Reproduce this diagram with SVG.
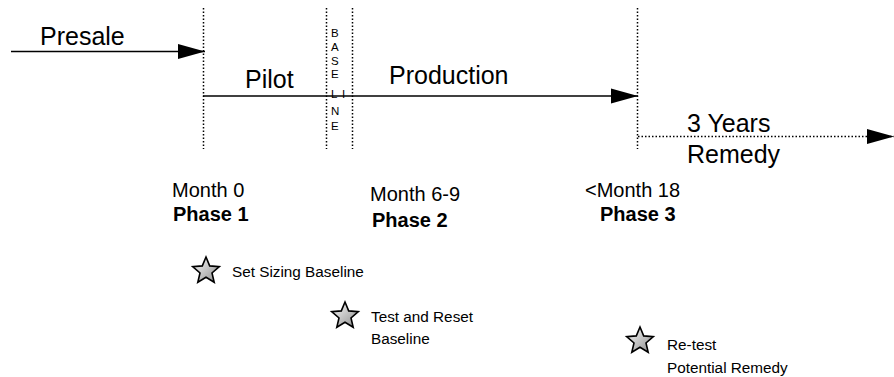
<svg xmlns="http://www.w3.org/2000/svg" width="894" height="377" viewBox="0 0 894 377">
<style>
.big{font-family:"Liberation Sans",Arial,sans-serif;font-size:25px;fill:#000}
.mid{font-family:"Liberation Sans",Arial,sans-serif;font-size:20px;fill:#000}
.bold{font-family:"Liberation Sans",Arial,sans-serif;font-size:20px;font-weight:bold;fill:#000}
.sm{font-family:"Liberation Sans",Arial,sans-serif;font-size:15.3px;fill:#000}
.vt{font-family:"Liberation Sans",Arial,sans-serif;font-size:11.5px;fill:#000}
.solid{stroke:#000;stroke-width:1.4;fill:none}
.dot{stroke:#000;stroke-width:1.5;fill:none;stroke-dasharray:1.5 2}
.star{stroke:#000;stroke-width:1.6;stroke-linejoin:miter;fill:url(#sg)}
</style>
<defs>
<linearGradient id="sg" x1="0" y1="0" x2="1" y2="1">
<stop offset="0" stop-color="#ffffff"/>
<stop offset="1" stop-color="#8a8a8a"/>
</linearGradient>
<marker id="ah" markerWidth="27" markerHeight="16" refX="27" refY="8" orient="auto" markerUnits="userSpaceOnUse">
<path d="M0,0.5 L27,8 L0,15.5 Z" fill="#000"/>
</marker>
<path id="starP" d="M0,-14 L3.7,-5.1 L13.3,-4.3 L6,1.95 L8.2,11.3 L0,6.3 L-8.2,11.3 L-6,1.95 L-13.3,-4.3 L-3.7,-5.1 Z"/>
</defs>
<rect width="894" height="377" fill="#fff"/>

<g id="connectors">
<line class="solid" x1="11" y1="51.5" x2="205" y2="51.5" marker-end="url(#ah)"/>
<line class="solid" x1="203" y1="96" x2="638" y2="96" marker-end="url(#ah)"/>
<line class="dot" x1="638" y1="136.5" x2="894" y2="136.5" marker-end="url(#ah)"/>
<line class="dot" x1="203.5" y1="8" x2="203.5" y2="149"/>
<line class="dot" x1="326.5" y1="8" x2="326.5" y2="149"/>
<line class="dot" x1="352.5" y1="8" x2="352.5" y2="149"/>
<line class="dot" x1="637.5" y1="8" x2="637.5" y2="149"/>
</g>

<g id="presale"><text class="big" x="40" y="45">Presale</text></g>
<g id="pilot"><text class="big" x="245" y="88">Pilot</text></g>
<g id="production"><text class="big" x="389" y="84">Production</text></g>
<g id="remedy">
<text class="big" x="687" y="132">3 Years</text>
<text class="big" x="687" y="163">Remedy</text>
</g>
<g id="baseline" class="vt">
<text x="331" y="37">B</text>
<text x="331" y="51">A</text>
<text x="331" y="64.5">S</text>
<text x="331" y="78">E</text>
<text x="331" y="98">L</text>
<text x="342" y="98">I</text>
<text x="331" y="115">N</text>
<text x="331" y="129.5">E</text>
</g>

<g id="phase1">
<text class="mid" x="172" y="197">Month 0</text>
<text class="bold" x="173" y="221">Phase 1</text>
</g>
<g id="phase2">
<text class="mid" x="370" y="201">Month 6-9</text>
<text class="bold" x="372" y="227">Phase 2</text>
</g>
<g id="phase3">
<text class="mid" x="585" y="197">&lt;Month 18</text>
<text class="bold" x="600" y="221">Phase 3</text>
</g>

<g id="milestone1">
<use href="#starP" class="star" transform="translate(206,271)"/>
<text class="sm" x="232" y="277">Set Sizing Baseline</text>
</g>
<g id="milestone2">
<use href="#starP" class="star" transform="translate(345,316)"/>
<text class="sm" x="371" y="322">Test and Reset</text>
<text class="sm" x="371" y="344">Baseline</text>
</g>
<g id="milestone3">
<use href="#starP" class="star" transform="translate(640,341)"/>
<text class="sm" x="667" y="350">Re-test</text>
<text class="sm" x="667" y="373">Potential Remedy</text>
</g>
</svg>
